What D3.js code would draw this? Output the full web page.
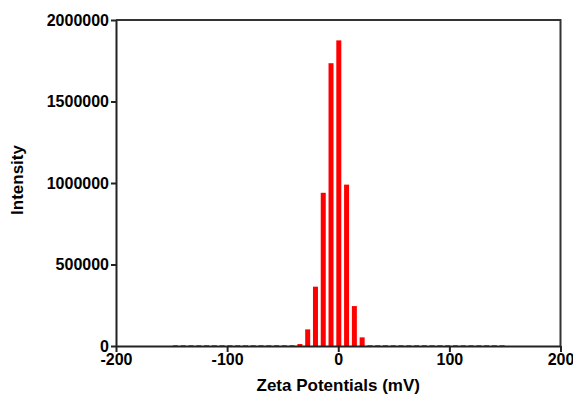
<!DOCTYPE html>
<html>
<head>
<meta charset="utf-8">
<script src="https://cdn.jsdelivr.net/npm/d3@7"></script>
<style>
  body { margin: 0; background: #fff; }
  text { font-family: "Liberation Sans", Arial, sans-serif; font-weight: bold; }
</style>
</head>
<body>
<div class="chart"></div>
<script>
// zeta potential bins (mV), bar centres
var zeta = [-146.5, -139.5, -132.5, -125.5, -118.5, -111.5, -104.5, -97.5, -90.5, -83.5,
            -76.5, -69.5, -62.5, -55.5, -48.5, -41.5, -34.5, -27.5, -20.5, -13.5,
            -6.5, 0.5, 7.5, 14.5, 21.5, 28.5, 35.5, 42.5, 49.5, 56.5,
            63.5, 70.5, 77.5, 84.5, 91.5, 98.5, 105.5, 112.5, 119.5, 126.5,
            133.5, 140.5, 147.5];
var intensity = [0, 0, 0, 0, 0, 0, 0, 0, 0, 0,
                 0, 0, 0, 0, 0, 0, 12000, 102000, 364000, 940000,
                 1735000, 1875000, 990000, 245000, 53000, 0, 0, 0, 0, 0,
                 0, 0, 0, 0, 0, 0, 0, 0, 0, 0,
                 0, 0, 0];
var xTicks = [-200, -100, 0, 100, 200];
var yTicks = [0, 500000, 1000000, 1500000, 2000000];

var margin = { top: 20, right: 12.5, bottom: 50, left: 116 };
var width = 573 - margin.left - margin.right,
    height = 396 - margin.top - margin.bottom;

var svg = d3.select(".chart").append("svg")
    .attr("width", 573)
    .attr("height", 396)
    .append("g")
    .attr("transform", "translate(" + margin.left + "," + margin.top + ")");

var x = d3.scaleLinear().domain([-200, 200]).range([0, width]);
var y = d3.scaleLinear().domain([0, 2000000]).range([height, 0]);

var data = zeta.map(function(z, i) { return { z: z, v: intensity[i] }; });
var halfW = 2.25;

// bars
svg.selectAll(".bar")
    .data(data.filter(function(d) { return d.v > 0; }))
    .enter().append("rect")
    .attr("class", "bar")
    .attr("x", function(d) { return x(d.z - halfW); })
    .attr("width", function(d) { return x(d.z + halfW) - x(d.z - halfW); })
    .attr("y", function(d) { return y(d.v); })
    .attr("height", function(d) { return y(0) - y(d.v); })
    .attr("fill", "#ff0000");

// frame top / right
svg.append("path")
    .attr("d", "M0,0H" + width + "V" + height)
    .attr("fill", "none")
    .attr("stroke", "#333")
    .attr("stroke-width", 2);

// axes (plain hyphen for negatives, like the original)
var xAxis = d3.axisBottom(x).tickValues(xTicks).tickSize(6).tickSizeOuter(0)
    .tickFormat(function(d) { return String(d); });
var yAxis = d3.axisLeft(y).tickValues(yTicks).tickSize(5).tickSizeOuter(0)
    .tickFormat(function(d) { return String(d); });

var gx = svg.append("g")
    .attr("transform", "translate(0," + height + ")")
    .call(xAxis);
var gy = svg.append("g").call(yAxis);

[gx, gy].forEach(function(g) {
    g.select(".domain").attr("stroke", "#222").attr("stroke-width", 2);
    g.selectAll(".tick line").attr("stroke", "#222").attr("stroke-width", 2);
    g.selectAll(".tick text").attr("fill", "#000").style("font-size", "16px");
});
gx.selectAll(".tick text").attr("dy", null).attr("y", 19);
gy.selectAll(".tick text").attr("x", -7);

// zero-height bars drawn as dashes on the baseline
svg.selectAll(".zero")
    .data(data.filter(function(d) { return d.v === 0; }))
    .enter().append("line")
    .attr("class", "zero")
    .attr("x1", function(d) { return x(d.z - halfW); })
    .attr("x2", function(d) { return x(d.z + halfW); })
    .attr("y1", y(0) - 0.5)
    .attr("y2", y(0) - 0.5)
    .attr("stroke", "#b02020")
    .attr("stroke-width", 1);

// axis titles
svg.append("text")
    .attr("x", width / 2)
    .attr("y", height + 45)
    .attr("text-anchor", "middle")
    .style("font-size", "17px")
    .text("Zeta Potentials (mV)");

svg.append("text")
    .attr("transform", "translate(" + (-93) + "," + (height / 2 - 3) + ") rotate(-90)")
    .attr("text-anchor", "middle")
    .style("font-size", "17px")
    .text("Intensity");
</script>
</body>
</html>
